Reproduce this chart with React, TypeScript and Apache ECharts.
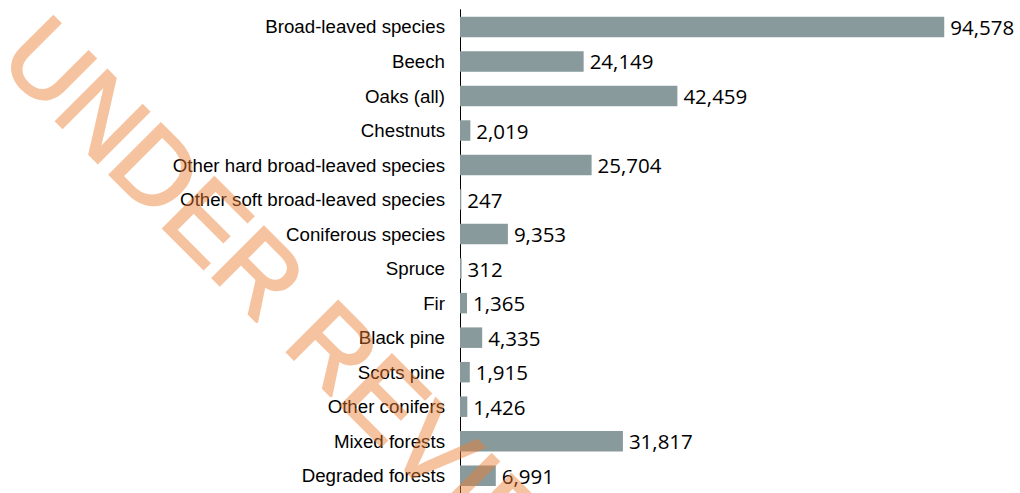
import React, { useEffect, useRef } from "react";
import * as echarts from "echarts";

const categories = [
  "Broad-leaved species",
  "Beech",
  "Oaks (all)",
  "Chestnuts",
  "Other hard broad-leaved species",
  "Other soft broad-leaved species",
  "Coniferous species",
  "Spruce",
  "Fir",
  "Black pine",
  "Scots pine",
  "Other conifers",
  "Mixed forests",
  "Degraded forests",
];

const values = [94578, 24149, 42459, 2019, 25704, 247, 9353, 312, 1365, 4335, 1915, 1426, 31817, 6991];

const watermarkText = "UNDER REVIEW";

export default function App() {
  const ref = useRef<HTMLDivElement>(null);
  const wmRef = useRef<HTMLDivElement>(null);
  useEffect(() => {
    if (!ref.current || !wmRef.current) return;
    const chart = echarts.init(ref.current, undefined, { renderer: "svg" });
    chart.setOption({
      animation: false,
      backgroundColor: "#ffffff",
      grid: { left: 460, right: 48, top: 9.7, bottom: -2.2, containLabel: false },
      xAxis: {
        type: "value",
        min: 0,
        max: 100000,
        show: false,
      },
      yAxis: {
        type: "category",
        data: categories,
        inverse: true,
        axisLine: { show: true, lineStyle: { color: "#000000", width: 1 } },
        axisTick: { show: false },
        axisLabel: {
          color: "#000000",
          fontFamily: "'Liberation Sans', Arial, sans-serif",
          fontSize: 18.7,
          margin: 15,
        },
      },
      series: [
        {
          type: "bar",
          data: values,
          barWidth: 20.5,
          itemStyle: { color: "#889a9b" },
          label: {
            show: true,
            position: "right",
            distance: 6,
            color: "#000000",
            fontFamily: "'Open Sans', sans-serif",
            fontSize: 20.5,
            formatter: (p: any) => Number(p.value).toLocaleString("en-US"),
          },
        },
      ],
    });

    const wm = echarts.init(wmRef.current, undefined, { renderer: "svg" });
    wm.setOption({
      animation: false,
      graphic: [
        {
          type: "text",
          x: 311,
          y: 324.5,
          rotation: -Math.PI / 4,
          silent: true,
          style: {
            text: watermarkText,
            fontSize: 105,
            fontFamily: "'Liberation Sans', Arial, sans-serif",
            fill: "rgb(237,125,49)",
            stroke: "rgb(237,125,49)",
            lineWidth: 2.4,
            align: "center",
            verticalAlign: "middle",
          },
        },
      ],
    });
    return () => {
      chart.dispose();
      wm.dispose();
    };
  }, []);
  return (
    <div style={{ position: "fixed", left: 0, top: 0, width: 1020, height: 493 }}>
      <div
        ref={ref}
        style={{ position: "absolute", left: 0, top: 0, width: 1020, height: 493 }}
      />
      <div
        ref={wmRef}
        style={{
          position: "absolute",
          left: 0,
          top: 0,
          width: 1020,
          height: 493,
          opacity: 0.46,
          pointerEvents: "none",
        }}
      />
    </div>
  );
}
